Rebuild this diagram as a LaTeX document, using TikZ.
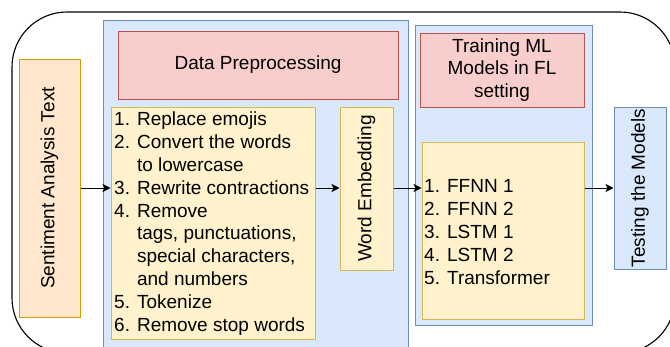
\documentclass[tikz,border=0pt]{standalone}
\usepackage{fontspec}
\setmainfont{Liberation Sans}
\usetikzlibrary{arrows.meta}
\definecolor{blueFill}{HTML}{DAE8FC}
\definecolor{blueLine}{HTML}{6C8EBF}
\definecolor{redFill}{HTML}{F8CECC}
\definecolor{redLine}{HTML}{B85450}
\definecolor{yelFill}{HTML}{FFF2CC}
\definecolor{yelLine}{HTML}{D6B656}
\definecolor{orgFill}{HTML}{FFE6CC}
\definecolor{orgLine}{HTML}{D79B00}
\begin{document}
\begin{tikzpicture}[x=1pt,y=-1pt,
  base/.style={rectangle, inner sep=0pt, line width=1pt},
  bluebox/.style={base, fill=blueFill, draw=blueLine},
  redbox/.style={base, fill=redFill, draw=redLine},
  yelbox/.style={base, fill=yelFill, draw=yelLine},
  orgbox/.style={base, fill=orgFill, draw=orgLine},
  txt/.style={inner sep=0pt, font=\fontsize{19}{22.8}\selectfont},
  arr/.style={-{Stealth[length=8pt,width=8pt,inset=2pt]}, line width=1pt}]
\useasboundingbox (0,0) rectangle (670,346);
\clip (0,0) rectangle (670,346);
% outer frame
\draw[line width=1.1pt, rounded corners=55pt] (12,12) rectangle (675,353);
% input text
\node[orgbox, minimum width=61pt, minimum height=258pt] (src) at (49.5,188) {};
\node[txt, rotate=90] (srcLabel) at (src.center) {Sentiment Analysis Text};
% preprocessing stage
\node[bluebox, minimum width=305pt, minimum height=340pt] (preC) at (255.5,190) {};
\node[redbox, minimum width=280pt, minimum height=68pt, txt] (preT) at (258,65) {Data Preprocessing};
\node[yelbox, minimum width=204pt, minimum height=232pt] (steps) at (213,223) {};
\node[txt, anchor=west, align=left] (stepsTxt) at (114,223.5) {%
1. Replace emojis\\
2. Convert the words\\
\hphantom{2. }to lowercase\\
3. Rewrite contractions\\
4. Remove\\
\hphantom{4. }tags, punctuations,\\
\hphantom{4. }special characters,\\
\hphantom{4. }and numbers\\
5. Tokenize\\
6. Remove stop words};
\node[yelbox, minimum width=53pt, minimum height=163pt] (emb) at (366.5,188.5) {};
\node[txt, rotate=90] (embLabel) at (emb.center) {Word Embedding};
% training stage
\node[bluebox, minimum width=177pt, minimum height=300pt] (trC) at (503.5,175) {};
\node[redbox, minimum width=164pt, minimum height=74pt, txt, align=center] (trT) at (502,70) {Training ML\\Models in FL\\setting};
\node[yelbox, minimum width=162pt, minimum height=177pt] (models) at (503,230.5) {};
\node[txt, anchor=west, align=left] (modelsTxt) at (424,232) {%
1. FFNN 1\\
2. FFNN 2\\
3. LSTM 1\\
4. LSTM 2\\
5. Transformer};
% testing
\node[bluebox, minimum width=52pt, minimum height=162pt] (test) at (640,188) {};
\node[txt, rotate=90] (testLabel) at (test.center) {Testing the Models};
% flow
\coordinate (flowY) at (0,188);
\draw[arr] (src.east |- flowY) -- (steps.west |- flowY);
\draw[arr] (steps.east |- flowY) -- (emb.west |- flowY);
\draw[arr] (emb.east |- flowY) -- (models.west |- flowY);
\draw[arr] (models.east |- flowY) -- (test.west |- flowY);
\end{tikzpicture}
\end{document}
